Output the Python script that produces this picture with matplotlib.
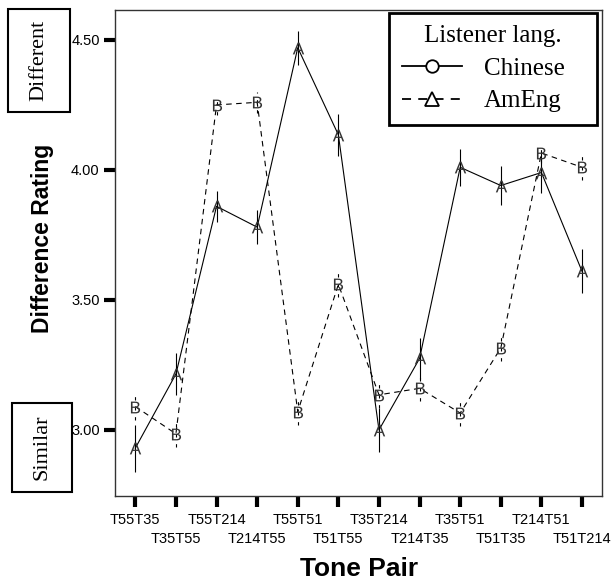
import matplotlib
matplotlib.use('Agg')
import matplotlib.pyplot as plt
from matplotlib.lines import Line2D
from matplotlib.patches import Rectangle
import numpy as np

plt.rcParams['font.family'] = ['Liberation Sans', 'DejaVu Sans']
plt.rcParams['mathtext.fontset'] = 'custom'
plt.rcParams['mathtext.rm'] = 'Liberation Sans'

#--- Data
pairs = ['T55T35', 'T35T55', 'T55T214', 'T214T55', 'T55T51', 'T51T55',
         'T35T214', 'T214T35', 'T35T51', 'T51T35', 'T214T51', 'T51T214']
chinese = [2.93, 3.215, 3.86, 3.78, 4.47, 4.135, 3.00, 3.275, 4.01, 3.94, 3.99, 3.61]
chinese_err = [0.09, 0.08, 0.06, 0.065, 0.065, 0.08, 0.085, 0.08, 0.07, 0.075, 0.08, 0.085]
ameng = [3.09, 2.985, 4.25, 4.26, 3.07, 3.56, 3.135, 3.16, 3.065, 3.315, 4.065, 4.01]
ameng_err = [0.05, 0.05, 0.04, 0.04, 0.05, 0.05, 0.05, 0.05, 0.05, 0.05, 0.04, 0.05]
yticks = [3.0, 3.5, 4.0, 4.5]

def main():
	fig = plt.figure(figsize=(6.13, 5.82), dpi=100)
	ax = fig.add_axes([0.1876, 0.1478, 0.795, 0.835])
	x = np.arange(len(pairs))

	#--- Chinese: solid line, "A" markers
	ax.errorbar(x, chinese, yerr=chinese_err, color='black', lw=0.8,
	            marker=r'$\mathrm{A}$', ms=8.5, mew=0, mfc='#333333',
	            elinewidth=0.8, capsize=1.5, capthick=0.8, zorder=3)

	#--- AmEng: dashed line, "B" markers
	eb2 = ax.errorbar(x, ameng, yerr=ameng_err, color='black', lw=0.8,
	                  ls=(0, (5, 4)), marker=r'$\mathrm{B}$', ms=8.5, mew=0,
	                  mfc='#333333', elinewidth=0.8, capsize=0, zorder=3)
	for c in eb2[2]:
		c.set_linestyle((0, (3, 6)))

	ax.set_xlim(-0.5, 11.5)
	ax.set_ylim(2.746, 4.615)

	#--- Staggered tick labels via major/minor ticks
	ax.set_xticks(x[0::2])
	ax.set_xticklabels(pairs[0::2])
	ax.set_xticks(x[1::2], minor=True)
	ax.set_xticklabels(pairs[1::2], minor=True)
	ax.tick_params(axis='x', which='both', direction='out', length=8,
	               width=3, labelsize=10.5)
	ax.tick_params(axis='x', which='major', pad=4)
	ax.tick_params(axis='x', which='minor', pad=18)

	ax.set_yticks(yticks)
	ax.set_yticklabels(['%.2f' % v for v in yticks])
	ax.tick_params(axis='y', direction='out', length=8, width=3,
	               labelsize=10.5, pad=3)

	for s in ax.spines.values():
		s.set_linewidth(1.0)
		s.set_color('#333333')

	ax.set_xlabel('Tone Pair', fontsize=19, fontweight='bold', labelpad=8)
	ax.set_ylabel('Difference Rating', fontsize=16.5, fontweight='bold')
	ax.yaxis.set_label_coords(-0.125, 0.53)

	#--- Legend
	handles = [Line2D([], [], color='black', lw=1.3, marker='o', ms=9,
	                  mfc='white', mec='black', mew=1.3),
	           Line2D([], [], color='black', lw=1.3, ls=(0, (5, 4)), marker='^',
	                  ms=10, mfc='white', mec='black', mew=1.3)]
	leg = ax.legend(handles, ['Chinese', 'AmEng'], title='Listener lang.',
	                loc='upper right', bbox_to_anchor=(0.5626, 0.6, 0.4271, 0.394),
	                mode='expand', borderaxespad=0, fancybox=False, framealpha=1,
	                edgecolor='black', handlelength=2.4, handletextpad=0.9,
	                prop={'family': 'Liberation Serif', 'size': 18},
	                borderpad=0.5, labelspacing=0.4)
	leg.get_title().set_fontfamily('Liberation Serif')
	leg.get_title().set_fontsize(18)
	leg.get_frame().set_linewidth(2)

	#--- Side boxes
	W, H = 613.0, 582.0
	for (x0, y0, x1, y1, txt) in [(8, 9, 70, 112, 'Different'),
	                              (12, 403, 72, 492, 'Similar')]:
		fig.add_artist(Rectangle((x0 / W, 1 - y1 / H), (x1 - x0) / W,
		                         (y1 - y0) / H, transform=fig.transFigure,
		                         fill=False, ec='black', lw=1.5))
		fig.text((x0 + x1) / 2 / W, 1 - (y0 + y1) / 2 / H, txt,
		         rotation=90, ha='center', va='center',
		         family='Liberation Serif', fontsize=16)

	fig.savefig('out.png', dpi=100)
	plt.close(fig)

if __name__ == "__main__":
	main()
